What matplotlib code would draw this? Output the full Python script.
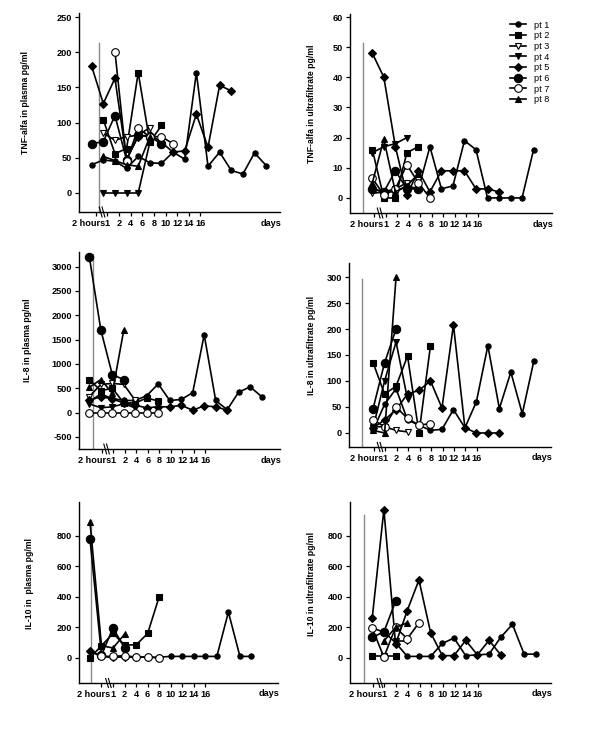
import numpy as np
import matplotlib
matplotlib.use("Agg")
import matplotlib.pyplot as plt
from matplotlib.transforms import blended_transform_factory, ScaledTranslation

nan = np.nan

PATIENTS = ["pt 1", "pt 2", "pt 3", "pt 4", "pt 5", "pt 6", "pt 7", "pt 8"]
TICK_LABELS = ["2 hours", "1", "2", "4", "6", "8", "10", "12", "14", "16"]

# values per sampling point (index 0 = first sample)
TNF_PLASMA = {
    "pt 1": [40, 47, 45, 35, 52, 43, 42, 58, 48, 171, 38, 58, 32, 27, 57, 39],
    "pt 2": [nan, 104, 56, 63, 171, 72, 96],
    "pt 3": [nan, 85, 75, 80, 82, 93],
    "pt 4": [nan, 0, 0, 0, 0, 72],
    "pt 5": [180, 127, 163, 48, 80, 83, 72, 58, 60, 112, 65, 153, 145],
    "pt 6": [70, 73, 110, 47, 82, 80, 70],
    "pt 7": [nan, nan, 201, 45, 92, 80, 80, 70],
    "pt 8": [nan, 52, 46, 40, 38, 80],
}
TNF_UF = {
    "pt 1": [3, 2, 2, 4, 3, 17, 3, 4, 19, 16, 0, 0, 0, 0, 16],
    "pt 2": [16, 0, 0, 15, 17],
    "pt 3": [1.5, 2, 3, 5],
    "pt 4": [15, 17, 18, 20],
    "pt 5": [48, 40, 17, 1, 9, 2, 9, 9, 9, 3, 3, 2],
    "pt 6": [3, 2, 9, 3, 3],
    "pt 7": [6.5, 1, 3, 11, 5, 0],
    "pt 8": [5, 19.5, 2, 4, 8],
}
IL8_PLASMA = {
    "pt 1": [230, 380, 290, 250, 250, 350, 590, 250, 270, 410, 1600, 250, 60, 420, 530, 330],
    "pt 2": [680, 450, 500, 200, 200, 300, 240],
    "pt 3": [330, 580, 600, 580, 250],
    "pt 4": [180, 100, 120, 180, 100],
    "pt 5": [250, 330, 280, 200, 150, 100, 120, 120, 150, 50, 140, 120, 50],
    "pt 6": [3200, 1700, 780, 680],
    "pt 7": [0, 0, 0, 0, 0, 0, 0],
    "pt 8": [520, 680, 400, 1700],
}
IL8_UF = {
    "pt 1": [5, 55, 85, 25, 15, 5, 7, 45, 10, 60, 168, 47, 117, 37, 138],
    "pt 2": [135, 75, 90, 148, 0, 168],
    "pt 3": [12, 12, 5, 2],
    "pt 4": [10, 100, 175, 65],
    "pt 5": [10, 25, 45, 75, 82, 100, 48, 208, 10, 0, 0, 0],
    "pt 6": [47, 135, 200],
    "pt 7": [25, 12, 50, 28, 15, 18],
    "pt 8": [5, 0, 300],
}
IL10_PLASMA = {
    "pt 1": [45, 10, 5, 10, 5, 5, 5, 10, 10, 10, 10, 10, 300, 10, 10],
    "pt 2": [0, 80, 160, 85, 85, 160, 400],
    "pt 3": [],
    "pt 4": [],
    "pt 5": [45, 10, 5, 5, 5, 5],
    "pt 6": [780, 20, 195, 65],
    "pt 7": [nan, 10, 10, 15, 5, 5, 0],
    "pt 8": [890, 80, 65, 155],
}
IL10_UF = {
    "pt 1": [195, 170, 100, 10, 10, 10, 95, 130, 15, 20, 25, 135, 220, 25, 25],
    "pt 2": [10, 10, 10],
    "pt 3": [],
    "pt 4": [nan, nan, 110, 110],
    "pt 5": [260, 970, 90, 310, 510, 165, 15, 15, 115, 20, 115, 20],
    "pt 6": [135, 170, 370],
    "pt 7": [195, 5, 200, 125, 230],
    "pt 8": [nan, 110, 200, 230],
}

STYLES = {
    "pt 1": dict(marker="o", ms=3.8, mfc="black"),
    "pt 2": dict(marker="s", ms=3.8, mfc="black"),
    "pt 3": dict(marker="v", ms=4.2, mfc="white"),
    "pt 4": dict(marker="v", ms=4.2, mfc="black"),
    "pt 5": dict(marker="D", ms=3.6, mfc="black"),
    "pt 6": dict(marker="o", ms=6.0, mfc="black"),
    "pt 7": dict(marker="o", ms=5.5, mfc="white"),
    "pt 8": dict(marker="^", ms=4.2, mfc="black"),
}

W, H = 600, 733
FONT = ["Liberation Sans Narrow", "Liberation Sans", "DejaVu Sans"]
TICK_FONT = dict(fontsize=6.6, fontweight="bold", family=FONT)

# (data, ylabel, pixel box l,r,top,bottom, xlim, ylim, yticks, tick offset,
#  gray line x & top, break x, label x px)
PANELS = [
    (TNF_PLASMA, "TNF-alfa in plasma pg/ml", (79, 280, 13, 212), (-1.09, 16.19), (-27, 255.7),
     np.arange(0, 251, 50), 0.35, (0.63, 213), 0.89, 30),
    (TNF_UF, "TNF-alfa in ultrafiltrate pg/ml", (350, 552, 14, 213), (-1.94, 15.6), (-5, 61),
     np.arange(0, 61, 10), 0.15, (-0.8, 51.3), 0.67, 316),
    (IL8_PLASMA, "IL-8 in plasma pg/ml", (79, 280, 252, 449), (-0.9, 16.6), (-747, 3300),
     np.arange(-500, 3001, 500), 1.1, (0.32, 3250), 1.5, 32),
    (IL8_UF, "IL-8 in ultrafiltrate pg/ml", (349, 551, 263, 447), (-2.1, 15.5), (-27, 327),
     np.arange(0, 301, 50), 0.05, (-1.0, 296), 0.6, 316),
    (IL10_PLASMA, "IL-10 in  plasma pg/ml", (79, 278, 502, 683), (-0.95, 16.3), (-164, 1020),
     np.arange(0, 801, 200), 1.0, (0.09, 905), 1.6, 34),
    (IL10_UF, "IL-10 in ultrafiltrate pg/ml", (350, 551, 502, 683), (-1.9, 15.3), (-164, 1020),
     np.arange(0, 801, 200), 0.05, (-0.7, 938), 0.66, 316),
]


def make_panel(fig, data, ylabel, box, xlim, ylim, yticks, toff, gray, brk, lab_px):
    l, r, t, b = box
    ax = fig.add_axes([l / W, 1 - b / H, (r - l) / W, (b - t) / H])
    for name in PATIENTS:
        vals = np.array(data[name], dtype=float)
        if len(vals) == 0:
            continue
        x = np.arange(len(vals))
        ok = ~np.isnan(vals)
        ax.plot(x[ok], vals[ok], color="black", lw=1.2, mec="black", mew=0.8,
                clip_on=False, zorder=3, **STYLES[name])
    ax.plot([gray[0], gray[0]], [ylim[0], gray[1]], color="#8a8a8a", lw=1.0, zorder=1)
    ax.set_xlim(*xlim)
    ax.set_ylim(*ylim)
    ax.set_yticks(yticks)
    ax.set_yticklabels([str(v) for v in yticks], **TICK_FONT)
    ax.set_xticks(np.arange(len(TICK_LABELS)) + toff)
    ax.set_xticklabels(TICK_LABELS, **TICK_FONT)
    ax.tick_params(length=3, width=0.9, pad=2)
    # "2 hours" sits to the left, butting up against "1"
    first = ax.get_xticklabels()[0]
    first.set_ha("right")
    first.set_transform(first.get_transform() + ScaledTranslation(0.09, 0, fig.dpi_scale_trans))
    for s in ["top", "right"]:
        ax.spines[s].set_visible(False)
    for s in ["left", "bottom"]:
        ax.spines[s].set_linewidth(1.0)
    # axis break mark: two short slanted strokes across the x axis
    tr = blended_transform_factory(ax.transData, ax.transAxes)
    dx = 0.12
    for k in (-0.12, 0.12):
        ax.plot([brk + k - dx, brk + k + dx], [0.025, -0.025], transform=tr,
                color="black", lw=0.8, clip_on=False)
    ax.text(0.955, -0.035, "days", transform=ax.transAxes, ha="center", va="top", **TICK_FONT)
    ax.set_ylabel(ylabel, fontsize=6.2, fontweight="bold", family=FONT)
    ax.yaxis.set_label_coords((lab_px - l) / (r - l), 0.55)
    return ax


fig = plt.figure(figsize=(W / 100, H / 100), dpi=100)
for p in PANELS:
    make_panel(fig, *p)

handles = [plt.Line2D([], [], color="black", lw=1.2, mec="black", mew=0.8, **STYLES[n])
           for n in PATIENTS]
fig.legend(handles, PATIENTS, loc="upper left", bbox_to_anchor=(506 / W, 1 - 17 / H),
           frameon=False, prop=dict(size=6.6, family=FONT), handlelength=1.8,
           labelspacing=0.18, handletextpad=0.9, borderaxespad=0)

fig.savefig("out.png", dpi=100, facecolor="white")
